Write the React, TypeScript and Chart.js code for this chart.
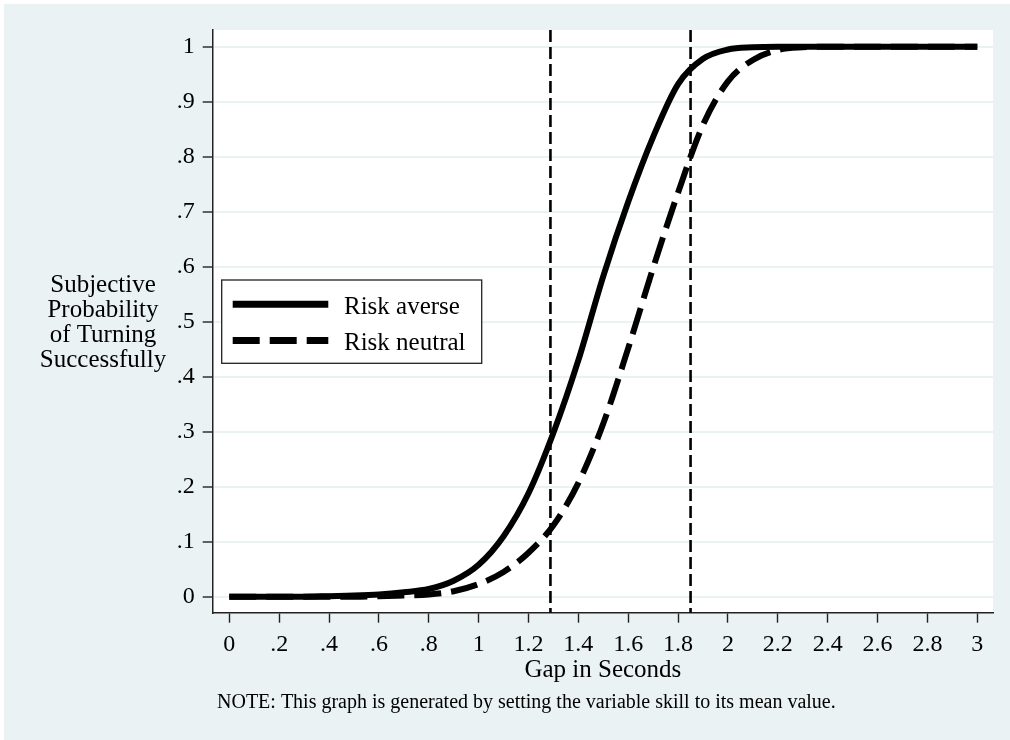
import React, { useEffect, useRef } from "react";
import { Chart, registerables } from "chart.js";

Chart.register(...registerables);

// ---- data ----
const gapSeconds = [
  0, 0.1, 0.2, 0.3, 0.4, 0.5, 0.6, 0.7, 0.8, 0.9, 1.0, 1.1, 1.2, 1.3, 1.4, 1.5,
  1.6, 1.7, 1.8, 1.9, 2.0, 2.1, 2.2, 2.3, 2.4, 2.5, 2.6, 2.7, 2.8, 2.9, 3.0,
];
const riskAverse = [
  0, 0, 0, 0, 0.001, 0.002, 0.004, 0.008, 0.014, 0.029, 0.058, 0.11, 0.188, 0.298,
  0.43, 0.583, 0.718, 0.836, 0.932, 0.978, 0.995, 0.999, 1, 1, 1, 1, 1, 1, 1, 1, 1,
];
const riskNeutral = [
  0, 0, 0, 0, 0, 0, 0.001, 0.002, 0.004, 0.01, 0.023, 0.045, 0.08, 0.13, 0.207,
  0.315, 0.452, 0.598, 0.735, 0.858, 0.937, 0.976, 0.994, 0.999, 1, 1, 1, 1, 1, 1, 1,
];
const cutoffLines = [1.288, 1.85];
const seriesLabels = ["Risk averse", "Risk neutral"];

const xTickValues = [0, 0.2, 0.4, 0.6, 0.8, 1, 1.2, 1.4, 1.6, 1.8, 2, 2.2, 2.4, 2.6, 2.8, 3];
const xTickLabels = ["0", ".2", ".4", ".6", ".8", "1", "1.2", "1.4", "1.6", "1.8", "2", "2.2", "2.4", "2.6", "2.8", "3"];
const yTickValues = [0, 0.1, 0.2, 0.3, 0.4, 0.5, 0.6, 0.7, 0.8, 0.9, 1];
const yTickLabels = ["0", ".1", ".2", ".3", ".4", ".5", ".6", ".7", ".8", ".9", "1"];

const xTitle = "Gap in Seconds";
const yTitleLines = ["Subjective", "Probability", "of Turning", "Successfully"];
const noteText = "NOTE: This graph is generated by setting the variable skill to its mean value.";

// ---- styling ----
const BG = "#eaf2f3";
const FONT = "'Liberation Serif', 'Times New Roman', serif";
const X_MIN = -0.0666;
const X_MAX = 3.063;
const Y_MIN = -0.0291;
const Y_MAX = 1.0304;
const CURVE_DASH = [27, 10];

const decorPlugin = {
  id: "decor",
  beforeDraw(chart: any) {
    const { ctx, chartArea: a, width, height } = chart;
    ctx.save();
    ctx.fillStyle = "#ffffff";
    ctx.fillRect(0, 0, width, height);
    ctx.fillStyle = BG;
    ctx.fillRect(4, 4, width - 4, height - 4);
    ctx.fillStyle = "#ffffff";
    ctx.fillRect(a.left, a.top, a.right - a.left, a.bottom - a.top);
    ctx.restore();
  },
  afterDraw(chart: any) {
    const { ctx, chartArea: a } = chart;
    ctx.save();
    ctx.fillStyle = "#000";
    ctx.textBaseline = "alphabetic";

    // y title (horizontal, multi-line)
    ctx.font = `25px ${FONT}`;
    ctx.textAlign = "center";
    const midY = (a.top + a.bottom) / 2;
    yTitleLines.forEach((line, i) => {
      ctx.fillText(line, 103, midY - 29.4 + i * 25);
    });

    // x title
    ctx.fillText(xTitle, (a.left + a.right) / 2, a.bottom + 64);

    // note
    ctx.font = `20px ${FONT}`;
    ctx.textAlign = "left";
    ctx.fillText(noteText, a.left + 4.3, a.bottom + 95.6);

    // legend
    const lx = a.left + 9;
    const ly = a.top + 250;
    const lw = 260;
    const lh = 83.3;
    ctx.fillStyle = "#ffffff";
    ctx.fillRect(lx, ly, lw, lh);
    ctx.strokeStyle = "#222";
    ctx.lineWidth = 1.3;
    ctx.strokeRect(lx, ly, lw, lh);
    const ds = chart.data.datasets;
    [0, 1].forEach((k, i) => {
      const yc = ly + 24.3 + i * 36.2;
      ctx.save();
      ctx.strokeStyle = ds[k].borderColor;
      ctx.lineWidth = 7;
      ctx.lineCap = "butt";
      ctx.setLineDash(ds[k].borderDash || []);
      ctx.beginPath();
      ctx.moveTo(lx + 11, yc);
      ctx.lineTo(lx + 106.6, yc);
      ctx.stroke();
      ctx.restore();
      ctx.fillStyle = "#000";
      ctx.font = `25px ${FONT}`;
      ctx.textAlign = "left";
      ctx.fillText(ds[k].label, lx + 122.3, yc + 9.5);
    });
    ctx.restore();
  },
};

export default function App() {
  const canvasRef = useRef<HTMLCanvasElement | null>(null);

  useEffect(() => {
    document.body.style.margin = "0";
    const canvas = canvasRef.current;
    if (!canvas) return;

    const curveData = (ys: number[]) => gapSeconds.map((x, i) => ({ x, y: ys[i] }));

    const chart = new Chart(canvas, {
      type: "line",
      data: {
        datasets: [
          {
            label: seriesLabels[0],
            data: curveData(riskAverse),
            borderColor: "#000",
            borderWidth: 6,
            pointRadius: 0,
            cubicInterpolationMode: "monotone",
            borderCapStyle: "butt",
            fill: false,
          },
          {
            label: seriesLabels[1],
            data: curveData(riskNeutral),
            borderColor: "#000",
            borderWidth: 6,
            borderDash: CURVE_DASH,
            pointRadius: 0,
            cubicInterpolationMode: "monotone",
            borderCapStyle: "butt",
            fill: false,
          },
          ...cutoffLines.map((v, i) => ({
            label: `cutoff${i}`,
            data: [
              { x: v, y: Y_MAX },
              { x: v, y: Y_MIN },
            ],
            borderColor: "#000",
            borderWidth: 2.6,
            borderDash: [12, 5],
            pointRadius: 0,
            tension: 0,
            fill: false,
          })),
        ],
      },
      options: {
        animation: false,
        responsive: false,
        devicePixelRatio: 1,
        layout: { padding: { top: 30, right: 17, left: 0, bottom: 0 } },
        plugins: {
          legend: { display: false },
          tooltip: { enabled: false },
        },
        scales: {
          x: {
            type: "linear",
            min: X_MIN,
            max: X_MAX,
            afterFit: (s: any) => {
              s.height = 127.3;
            },
            afterBuildTicks: (s: any) => {
              s.ticks = xTickValues.map((v) => ({ value: v }));
            },
            ticks: {
              autoSkip: false,
              maxRotation: 0,
              padding: 8,
              color: "#000",
              font: { family: FONT, size: 24 },
              callback: (_v: any, i: number) => xTickLabels[i],
            },
            grid: {
              drawOnChartArea: false,
              drawTicks: true,
              tickLength: 10,
              tickColor: "#222",
              tickWidth: 1.4,
            },
            border: { display: true, color: "#222", width: 1.5 },
          },
          y: {
            type: "linear",
            min: Y_MIN,
            max: Y_MAX,
            afterFit: (s: any) => {
              s.width = 212.7;
            },
            afterBuildTicks: (s: any) => {
              s.ticks = yTickValues.map((v) => ({ value: v }));
            },
            ticks: {
              autoSkip: false,
              padding: 8,
              color: "#000",
              font: { family: FONT, size: 24 },
              callback: (_v: any, i: number) => yTickLabels[i],
            },
            grid: {
              drawOnChartArea: true,
              color: BG,
              lineWidth: 2,
              drawTicks: true,
              tickLength: 10,
              tickColor: "#222",
              tickWidth: 1.4,
            },
            border: { display: true, color: "#222", width: 1.5 },
          },
        },
      },
      plugins: [decorPlugin],
    } as any);

    return () => chart.destroy();
  }, []);

  return (
    <div style={{ position: "absolute", left: 0, top: 0, width: 1010, height: 740, overflow: "hidden" }}>
      <canvas ref={canvasRef} width={1010} height={740} style={{ display: "block" }} />
    </div>
  );
}
